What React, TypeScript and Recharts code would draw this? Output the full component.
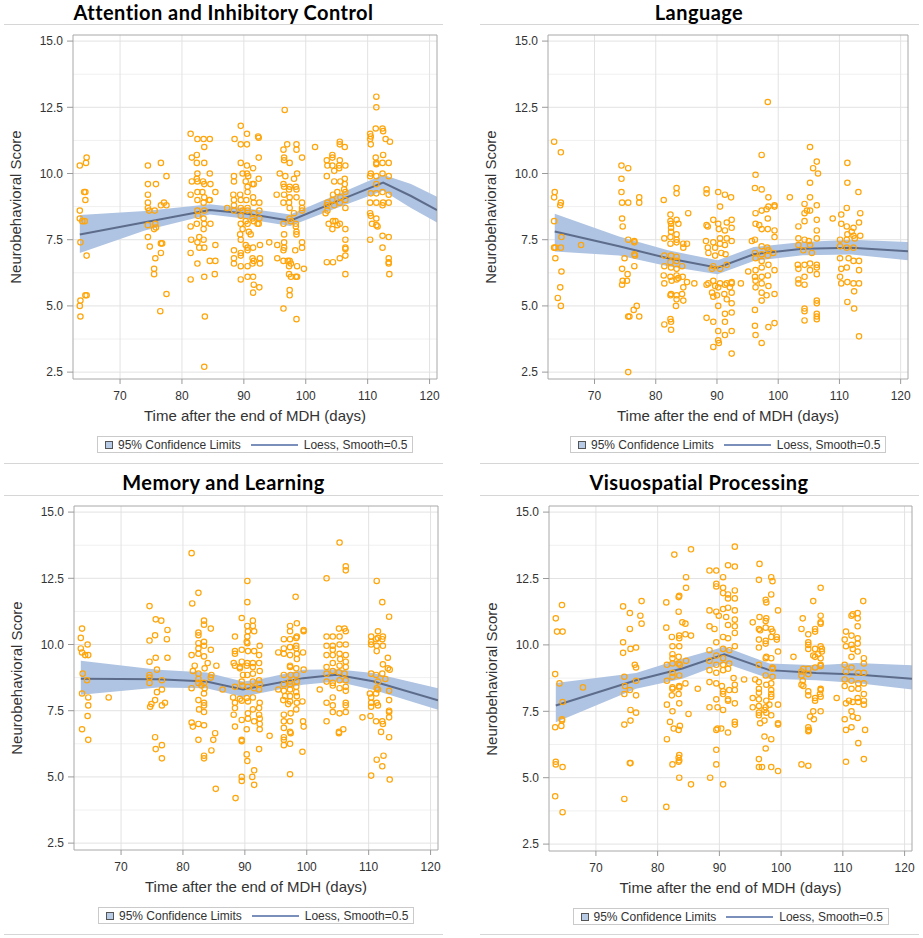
import React from "react";
import {
  Area,
  CartesianGrid,
  ComposedChart,
  Line,
  ReferenceArea,
  Scatter,
  XAxis,
  YAxis,
} from "recharts";

const FONT = "'Liberation Sans', Arial, sans-serif";
const X_TICKS = [70, 80, 90, 100, 110, 120];
const Y_TICKS = [2.5, 5, 7.5, 10, 12.5, 15];
const Y_MINOR = [3.75, 6.25, 8.75, 11.25, 13.75];
const X_DOMAIN: [number, number] = [62.4, 121.2];
const Y_DOMAIN: [number, number] = [2.24, 15.23];

const X_LABEL = "Time after the end of MDH (days)";
const Y_LABEL = "Neurobehavioral Score";
const BAND_LABEL = "95% Confidence Limits";
const FIT_LABEL = "Loess, Smooth=0.5";

type Pt = [number, number];

// ---- Attention and Inhibitory Control ----
const attentionPoints: Pt[] = [
  [63.5,10.3],[64.6,10.6],[64.5,10.4],[64.2,9.3],[64.4,9.3],[64.4,9.0],[63.5,8.6],[63.5,8.3],[63.9,8.2],[64.3,8.2],[63.6,7.4],[64.6,6.9],[64.4,5.4],[64.6,5.4],[63.6,5.2],[63.5,5.0],[63.6,4.6],
  [74.5,10.3],[76.6,10.4],[77.5,9.9],[74.5,9.6],[75.8,9.6],[74.5,9.2],[74.5,8.9],[74.5,8.7],[74.7,8.6],[77.1,8.9],[76.6,8.8],[75.6,8.6],[74.5,8.05],[75.7,8.1],[75.8,7.96],[75.5,7.9],[77.5,8.8],[76.6,7.36],[76.8,7.36],[74.5,7.6],[74.8,7.24],[76.6,7.0],[75.7,6.8],[75.5,6.4],[75.5,6.2],[77.5,5.45],[76.5,4.8],
  [81.4,11.5],[82.5,11.3],[83.5,11.3],[84.5,11.3],[83.6,11.0],[81.6,10.6],[82.4,10.7],[82.4,10.4],[83.6,10.4],[82.5,10.0],[82.4,9.8],[81.6,9.7],[82.5,9.7],[83.4,9.7],[83.6,9.6],[84.6,9.6],[84.5,10.0],[81.4,9.2],[82.5,9.3],[83.3,9.3],[83.6,9.1],[82.5,9.0],[83.5,8.9],[84.5,9.0],[85.4,9.3],[82.5,8.6],[83.6,8.6],[84.4,9.0],[82.6,8.4],[83.5,8.3],[82.4,8.1],[81.4,8.0],[83.5,7.9],[83.6,8.1],[84.6,8.1],[81.5,7.5],[82.8,7.6],[82.5,7.4],[83.5,7.5],[82.8,7.2],[83.6,7.2],[85.4,7.3],[81.4,7.0],[84.5,6.7],[85.4,6.7],[82.5,6.6],[81.4,6.0],[83.6,6.1],[85.3,6.2],[83.7,4.6],[83.6,2.7],
  [89.5,11.8],[88.5,11.3],[90.5,11.5],[92.3,11.4],[92.4,11.35],[89.5,11.1],[90.5,11.1],[92.4,10.6],[89.5,10.4],[90.5,10.3],[91.5,10.2],[88.4,9.9],[89.8,10.0],[90.5,10.0],[90.7,9.9],[92.4,9.8],[88.4,9.7],[90.3,9.7],[91.4,9.6],[91.6,9.6],[88.3,9.2],[89.4,9.2],[90.6,9.5],[90.6,9.3],[91.5,9.1],[88.4,9.0],[89.5,9.0],[90.4,9.0],[88.4,8.8],[89.5,8.7],[90.6,8.7],[91.6,8.9],[92.5,8.9],[87.3,8.7],[88.4,8.6],[89.8,8.6],[90.6,8.6],[91.6,8.5],[92.5,8.6],[89.5,8.4],[90.3,8.2],[91.4,8.3],[92.5,8.3],[91.6,8.2],[92.2,8.1],[89.5,8.1],[89.8,7.9],[90.6,8.1],[92.4,8.1],[89.4,7.7],[89.5,7.5],[90.8,7.8],[91.1,7.7],[88.4,7.1],[89.5,7.0],[90.6,7.1],[88.4,6.8],[89.5,6.9],[91.6,6.7],[92.6,6.8],[88.4,6.6],[89.5,6.5],[90.6,6.5],[91.4,6.6],[92.6,6.6],[90.6,7.2],[91.5,7.2],[92.6,7.3],[89.5,6.0],[90.6,6.1],[91.5,6.1],[91.6,5.8],[91.5,5.5],[92.5,5.7],[90.3,7.3],[91.4,6.8],[94.1,7.4],
  [96.6,12.4],[97.0,11.1],[98.5,11.1],[96.4,10.9],[98.5,10.9],[99.4,10.6],[96.5,10.6],[97.4,10.4],[96.5,10.5],[95.8,10.0],[96.7,9.9],[98.6,10.0],[98.1,9.8],[96.4,9.6],[97.4,9.5],[98.4,9.5],[96.5,9.5],[97.3,9.4],[98.5,9.4],[95.3,9.2],[96.5,9.2],[97.4,9.1],[98.5,9.1],[96.4,8.9],[97.3,8.9],[99.4,8.9],[99.4,8.7],[99.4,8.6],[97.4,8.7],[98.1,8.5],[96.4,8.1],[97.6,8.2],[98.4,8.1],[98.4,8.0],[98.5,7.8],[98.5,7.7],[97.4,8.3],[96.5,7.7],[95.4,7.3],[96.5,7.4],[96.5,7.2],[96.4,7.1],[99.4,7.4],[99.4,7.2],[98.3,7.1],[95.4,6.8],[96.4,6.7],[97.1,6.7],[97.4,6.7],[97.6,6.6],[97.3,6.5],[98.6,6.5],[99.7,6.4],[97.3,6.2],[98.4,6.1],[98.6,6.1],[97.6,6.1],[97.4,5.6],[97.4,5.4],[96.4,4.9],[98.5,4.5],
  [101.5,11.0],[105.5,11.2],[105.5,11.1],[106.3,11.0],[103.4,10.5],[104.3,10.7],[104.3,10.6],[105.5,10.5],[104.3,10.3],[105.4,10.3],[106.4,10.3],[103.5,10.3],[104.6,10.1],[105.4,10.2],[103.4,9.9],[104.6,9.7],[105.6,9.7],[106.3,9.8],[106.3,9.6],[106.2,9.4],[104.4,9.2],[105.1,9.3],[106.4,9.3],[105.6,9.1],[104.3,9.0],[103.5,8.9],[104.6,8.8],[105.5,8.9],[106.4,9.0],[106.4,8.7],[103.4,8.8],[103.5,8.6],[103.2,8.5],[104.4,8.2],[103.7,8.1],[104.8,8.2],[105.5,8.1],[105.1,8.05],[104.3,7.9],[106.4,7.9],[106.4,7.5],[106.4,7.2],[106.4,7.15],[106.4,6.9],[105.5,6.8],[103.4,6.65],[104.4,6.65],[106.4,6.2],
  [111.4,12.9],[111.4,12.5],[110.4,11.5],[111.3,11.7],[112.4,11.7],[112.5,11.6],[110.5,11.4],[110.4,11.3],[112.9,11.3],[113.6,11.2],[110.5,11.1],[112.5,10.7],[111.3,10.6],[111.4,10.4],[112.4,10.4],[113.4,10.4],[111.4,10.35],[110.5,10.0],[111.4,9.9],[112.4,10.0],[113.4,9.9],[110.4,9.9],[111.4,9.6],[110.5,9.25],[111.4,9.25],[112.4,9.3],[113.4,9.2],[111.4,8.9],[110.4,8.9],[112.5,8.9],[110.4,8.5],[111.4,8.3],[112.4,8.8],[113.4,8.9],[110.5,8.4],[111.4,8.05],[111.6,8.0],[110.7,8.1],[112.4,7.65],[113.4,7.6],[110.4,7.5],[112.4,7.2],[113.4,6.8],[113.4,6.65],[113.4,6.6],[113.5,6.2],
];
const attentionFitX = [63.5, 74, 84.5, 90, 97.5, 105, 112.5, 117, 121.2];
const attentionFit = [7.7, 8.16, 8.62, 8.5, 8.22, 8.95, 9.66, 9.15, 8.62];
const attentionUpper = [8.43, 8.58, 8.84, 8.7, 8.45, 9.2, 9.95, 9.6, 9.12];
const attentionLower = [7.0, 7.85, 8.45, 8.3, 8.02, 8.7, 9.35, 8.7, 8.15];

// ---- Language ----
const languagePoints: Pt[] = [
  [63.4,11.2],[64.5,10.8],[63.5,9.3],[63.4,9.1],[64.5,8.9],[64.4,8.8],[63.4,8.2],[63.4,7.2],[63.6,7.2],[64.5,7.2],[64.6,7.6],[63.6,6.8],[64.6,6.3],[64.0,5.3],[64.4,5.7],[64.5,5.0],[67.8,7.3],
  [74.4,10.3],[75.5,10.2],[74.4,9.8],[74.4,9.3],[74.5,8.9],[75.5,8.9],[77.3,9.1],[77.3,8.9],[74.5,8.3],[74.6,8.0],[75.5,7.5],[76.5,7.45],[76.5,7.4],[76.5,6.95],[76.6,6.9],[74.9,6.8],[76.5,6.5],[74.5,6.4],[75.4,6.2],[74.6,5.95],[75.3,5.95],[74.5,5.8],[76.4,4.85],[76.9,5.0],[75.5,4.6],[75.7,4.6],[77.3,4.6],[75.5,2.5],
  [83.4,9.45],[83.4,9.25],[81.3,9.0],[82.4,8.45],[82.4,8.2],[82.5,8.1],[83.4,8.25],[82.5,7.95],[82.5,7.8],[83.7,8.1],[81.4,7.55],[83.4,7.7],[82.4,7.6],[83.4,7.5],[82.4,7.35],[83.4,7.4],[85.3,8.5],[84.5,7.35],[85.1,7.35],[81.4,6.9],[82.5,6.9],[83.4,6.85],[84.5,7.2],[82.4,6.65],[83.4,6.7],[81.4,6.5],[82.5,6.45],[83.4,6.4],[84.3,6.5],[81.3,6.15],[82.4,6.1],[83.4,6.15],[82.6,5.95],[83.7,6.05],[84.4,6.1],[85.1,5.9],[86.3,5.85],[81.4,5.85],[83.4,6.0],[82.5,5.45],[82.4,5.4],[83.4,5.4],[84.5,5.7],[84.3,5.45],[83.4,5.25],[84.5,5.2],[83.3,5.0],[81.4,4.3],[82.4,4.5],[82.5,4.4],[82.5,4.1],
  [88.3,9.4],[88.3,9.25],[90.2,9.3],[91.3,9.2],[92.3,9.1],[90.5,8.75],[89.4,8.25],[90.2,8.1],[88.3,8.05],[88.5,8.0],[91.6,8.15],[92.4,8.25],[90.3,7.9],[91.3,7.85],[92.4,7.95],[88.2,7.45],[89.4,7.4],[90.5,7.55],[91.6,7.55],[92.4,7.45],[88.5,7.2],[89.7,7.2],[90.5,7.35],[91.3,7.3],[88.6,7.0],[89.7,6.9],[90.7,7.0],[91.4,6.95],[89.4,6.5],[90.5,6.4],[91.6,6.55],[89.2,6.4],[88.6,5.85],[89.4,5.95],[90.5,5.85],[91.6,5.85],[92.4,5.9],[88.3,5.8],[89.7,5.75],[90.2,5.7],[91.3,5.8],[92.1,5.7],[92.4,5.85],[89.2,5.5],[90.0,5.4],[91.2,5.45],[92.4,5.5],[89.4,5.35],[90.2,5.0],[91.6,5.25],[92.4,5.1],[91.3,4.7],[92.4,4.75],[88.3,4.55],[89.4,4.4],[90.2,4.05],[91.3,4.4],[92.4,4.05],[91.3,3.9],[90.2,3.7],[90.3,3.6],[89.4,3.45],[92.4,3.2],[93.9,5.85],
  [98.3,12.7],[97.3,10.7],[96.3,9.95],[96.2,9.45],[97.3,9.4],[98.4,9.1],[99.4,8.8],[96.3,8.5],[97.3,8.6],[98.1,8.65],[98.4,8.75],[99.4,8.75],[96.3,8.1],[96.9,8.05],[97.3,7.9],[98.3,7.9],[99.4,7.85],[98.3,8.3],[99.4,7.6],[95.7,7.45],[96.2,7.5],[97.3,7.25],[98.2,7.2],[98.4,7.1],[96.2,7.0],[97.3,6.95],[98.3,6.9],[99.2,7.0],[96.3,6.8],[97.3,6.7],[98.4,6.55],[99.4,6.35],[96.3,6.35],[97.3,6.45],[95.1,6.3],[96.2,6.1],[97.3,6.1],[98.3,6.15],[96.3,5.95],[97.3,5.85],[98.4,5.75],[96.3,5.7],[97.3,5.5],[98.1,5.4],[99.4,5.45],[97.3,5.2],[96.2,4.85],[96.2,4.25],[96.3,3.9],[97.3,3.6],[98.4,4.2],[99.4,4.35],[101.9,9.1],
  [105.2,11.0],[106.3,10.45],[105.7,10.2],[106.5,10.0],[105.2,9.65],[105.2,9.1],[104.3,8.85],[104.7,8.6],[105.2,8.6],[106.3,8.8],[104.3,8.5],[103.3,8.0],[104.3,8.2],[106.3,8.25],[103.3,7.55],[104.3,7.5],[105.0,7.45],[106.3,7.85],[106.3,7.55],[103.3,7.3],[105.2,7.3],[104.1,7.1],[105.5,7.0],[103.2,6.55],[104.3,6.55],[106.3,6.55],[103.3,6.4],[105.2,6.35],[106.3,6.45],[103.3,6.0],[104.3,6.1],[106.3,6.2],[105.2,6.6],[103.3,5.85],[104.3,5.8],[104.3,4.9],[104.3,4.8],[104.3,4.45],[106.3,5.2],[106.3,5.1],[106.3,4.7],[106.3,4.6],[106.3,4.5],[108.9,8.3],
  [111.3,10.4],[111.3,9.65],[113.1,9.3],[111.2,8.7],[110.3,8.45],[110.3,8.1],[111.2,8.0],[112.3,7.95],[112.0,7.8],[111.3,7.7],[112.3,7.65],[113.4,7.65],[112.5,7.55],[110.1,7.5],[111.2,7.5],[113.4,8.5],[113.2,8.15],[110.1,7.25],[111.2,7.2],[112.3,7.2],[110.1,6.8],[111.5,6.8],[112.3,6.7],[113.2,6.7],[110.3,6.4],[111.2,6.45],[113.2,6.35],[110.1,6.1],[110.3,5.85],[111.3,5.9],[112.3,5.85],[113.2,5.85],[112.4,5.55],[111.3,5.15],[112.4,4.9],[113.2,3.85],
];
const languageFitX = [63.5, 74, 82, 90.1, 96, 104, 112, 121.2];
const languageFit = [7.81, 7.25, 6.8, 6.44, 6.95, 7.16, 7.2, 7.06];
const languageUpper = [8.48, 7.62, 7.1, 6.72, 7.22, 7.41, 7.5, 7.41];
const languageLower = [7.05, 6.9, 6.5, 6.2, 6.7, 6.91, 6.94, 6.72];

// ---- Memory and Learning ----
const memoryPoints: Pt[] = [
  [63.7,10.6],[63.5,10.25],[63.5,9.85],[63.7,9.7],[64.2,9.6],[64.7,9.6],[64.6,10.0],[63.8,8.9],[64.5,8.65],[63.7,8.15],[64.7,8.0],[64.7,7.7],[64.6,7.3],[63.7,6.8],[64.7,6.4],[68.0,8.0],
  [74.6,11.45],[75.6,10.95],[76.5,10.9],[77.5,10.55],[77.4,10.2],[74.6,10.15],[75.5,10.35],[74.6,9.35],[75.6,9.5],[75.8,9.05],[77.5,9.5],[74.6,8.85],[74.6,8.75],[74.6,8.55],[76.6,8.65],[75.8,8.2],[76.6,8.3],[75.5,7.9],[74.7,7.65],[74.9,7.75],[76.6,7.7],[77.1,7.8],[75.5,6.5],[75.6,6.05],[76.6,6.2],[76.6,5.7],
  [81.4,13.45],[81.5,11.55],[82.5,11.95],[82.5,10.45],[82.5,10.35],[83.4,10.9],[83.4,10.75],[84.5,10.6],[82.5,10.05],[81.4,9.6],[82.5,9.85],[82.5,9.65],[83.4,10.1],[83.4,9.95],[83.4,9.55],[84.5,9.8],[84.0,9.3],[85.4,9.2],[81.9,9.2],[81.6,9.0],[82.5,8.9],[83.5,9.1],[82.5,8.7],[83.4,8.55],[84.6,8.85],[84.5,8.75],[81.4,8.35],[82.5,8.55],[83.0,8.45],[83.5,8.35],[83.4,8.15],[82.5,7.9],[83.4,7.8],[82.6,7.55],[83.4,7.7],[83.4,7.45],[81.4,7.05],[82.5,7.0],[83.4,6.95],[81.6,6.9],[82.5,6.4],[84.6,6.0],[83.4,5.7],[83.4,5.8],[84.9,6.4],[85.2,6.65],[85.3,4.55],[86.4,8.3],
  [90.4,12.4],[90.4,11.6],[89.5,11.0],[91.3,10.9],[90.4,10.7],[91.3,10.7],[90.5,10.5],[91.5,10.5],[88.4,10.3],[90.4,10.3],[90.3,10.1],[90.4,10.05],[92.4,9.95],[88.4,9.75],[89.5,9.8],[88.4,9.65],[90.5,9.75],[91.5,9.75],[92.3,9.6],[88.2,9.3],[89.5,9.35],[90.4,9.3],[91.3,9.3],[92.3,9.3],[88.4,9.2],[89.2,9.15],[90.3,9.2],[91.3,9.15],[89.2,9.1],[89.7,8.85],[90.4,8.85],[91.3,8.9],[92.4,9.0],[92.3,8.65],[89.5,8.6],[91.3,8.6],[92.4,8.5],[88.4,8.4],[89.6,8.45],[90.5,8.4],[91.5,8.35],[92.3,8.3],[88.1,8.0],[89.2,7.95],[90.3,7.98],[91.3,8.0],[88.4,7.8],[89.5,7.88],[90.5,7.85],[92.4,7.8],[88.4,7.6],[90.5,7.4],[92.3,7.6],[88.2,7.35],[92.3,7.35],[91.3,7.55],[90.5,7.2],[91.5,7.1],[92.4,7.2],[89.5,7.15],[88.4,6.9],[92.4,7.0],[90.3,6.8],[92.4,6.8],[89.5,6.4],[89.5,6.35],[92.3,6.05],[90.3,5.85],[90.4,5.6],[91.5,5.25],[89.5,5.0],[89.5,4.85],[91.2,5.0],[91.5,4.7],[88.5,4.2],[94.0,6.55],
  [98.2,11.8],[97.3,10.7],[98.4,10.8],[96.3,10.2],[97.3,10.5],[97.3,10.2],[98.4,10.3],[98.3,10.25],[99.5,10.55],[99.5,10.5],[95.4,9.7],[96.3,9.85],[97.3,9.9],[98.3,9.95],[98.3,9.85],[96.3,9.65],[97.3,9.6],[98.4,9.65],[99.4,9.7],[97.3,9.2],[97.3,9.15],[98.4,9.45],[98.3,9.1],[99.5,9.05],[96.3,8.85],[97.4,8.85],[98.3,8.85],[97.3,8.6],[98.4,8.6],[96.3,8.5],[97.3,8.5],[98.3,8.4],[95.4,8.3],[96.3,8.25],[97.3,8.3],[98.3,8.2],[96.5,8.05],[97.3,8.05],[98.4,8.05],[96.2,7.9],[97.3,7.85],[98.4,7.8],[99.3,7.85],[97.0,7.75],[98.3,7.55],[96.3,7.35],[97.4,7.4],[96.3,7.1],[97.3,7.1],[99.4,7.1],[99.5,6.9],[96.3,6.85],[97.3,6.7],[97.4,6.65],[96.3,6.5],[96.3,6.4],[96.3,6.2],[97.3,6.25],[99.3,5.95],[97.3,5.1],
  [105.3,13.85],[106.3,12.95],[106.3,12.8],[103.2,12.5],[105.2,10.6],[106.1,10.6],[106.3,10.5],[103.2,10.3],[104.2,10.3],[105.3,10.3],[103.2,9.95],[104.2,9.95],[105.3,10.0],[106.3,10.0],[104.2,9.8],[103.2,9.6],[104.2,9.6],[105.3,9.65],[106.3,9.6],[105.4,9.45],[106.3,9.35],[104.2,9.3],[103.2,9.15],[105.3,9.2],[106.3,9.15],[103.2,8.9],[104.2,9.0],[105.2,8.95],[106.1,8.9],[103.2,8.6],[104.2,8.55],[105.3,8.65],[106.3,8.65],[104.2,8.45],[105.3,8.35],[106.3,8.4],[106.3,8.25],[102.1,8.3],[104.2,8.0],[103.2,7.8],[104.2,7.7],[106.3,7.8],[106.3,7.7],[104.2,7.45],[105.3,7.4],[106.3,7.45],[103.2,7.1],[105.2,6.7],[105.2,6.65],[105.9,6.8],
  [111.3,12.4],[112.2,11.6],[113.3,11.05],[111.5,10.5],[110.4,10.3],[111.5,10.25],[112.3,10.3],[112.2,10.2],[110.4,10.1],[111.2,10.2],[110.4,10.0],[111.3,9.95],[112.3,9.95],[111.3,9.75],[113.1,9.5],[112.3,9.25],[113.1,9.1],[113.4,9.05],[112.2,8.9],[111.2,8.85],[110.4,8.9],[112.7,8.7],[111.5,8.6],[111.3,8.35],[111.5,8.3],[113.3,8.25],[110.2,8.15],[110.4,8.0],[111.2,8.15],[110.4,7.8],[111.3,7.8],[110.4,7.65],[111.5,7.7],[113.3,7.9],[113.3,7.5],[113.3,7.45],[110.3,7.3],[109.0,7.25],[113.3,7.25],[111.2,7.1],[112.2,7.1],[112.3,7.0],[112.0,6.7],[113.3,6.5],[111.3,5.65],[112.4,5.8],[112.2,5.4],[110.4,5.05],[113.4,4.9],
];
const memoryFitX = [63.5, 76, 83.8, 89.7, 92.4, 99.4, 104.8, 110.7, 121.2];
const memoryFit = [8.71, 8.69, 8.6, 8.3, 8.42, 8.73, 8.86, 8.61, 7.89];
const memoryUpper = [9.39, 9.05, 8.94, 8.6, 8.69, 9.05, 9.07, 8.92, 8.35];
const memoryLower = [8.1, 8.38, 8.35, 8.02, 8.16, 8.48, 8.6, 8.29, 7.54];

// ---- Visuospatial Processing ----
const visuoPoints: Pt[] = [
  [64.5,11.5],[63.5,11.0],[63.7,10.5],[64.6,10.5],[63.4,8.9],[64.1,8.55],[64.6,7.85],[64.5,7.2],[64.5,7.15],[63.4,6.9],[64.4,6.95],[63.5,5.6],[63.5,5.5],[64.6,5.4],[63.4,4.3],[64.6,3.7],[67.9,8.4],
  [74.4,11.45],[75.5,11.2],[77.2,11.1],[77.4,11.65],[77.4,10.8],[75.5,10.6],[74.4,10.1],[74.4,9.7],[75.6,9.85],[76.5,9.9],[76.3,9.25],[76.5,9.15],[74.6,8.8],[76.5,8.65],[74.7,8.45],[74.6,8.15],[75.5,8.3],[76.5,8.1],[75.6,7.55],[76.5,7.45],[75.6,7.15],[74.6,7.0],[75.5,5.55],[75.6,5.55],[74.6,4.2],
  [82.7,13.4],[85.4,13.6],[84.6,12.55],[83.4,11.8],[83.5,11.85],[84.6,12.15],[81.4,11.6],[83.4,11.25],[84.0,10.85],[84.5,10.8],[81.4,10.65],[82.3,10.3],[83.5,10.35],[83.5,10.25],[84.5,10.4],[85.4,10.35],[82.4,9.95],[83.5,9.95],[82.4,9.65],[83.4,9.55],[82.4,9.5],[84.6,9.4],[83.4,9.3],[81.5,9.25],[82.4,9.3],[83.6,9.25],[82.4,8.95],[83.5,8.85],[82.4,8.8],[81.5,8.65],[84.5,8.55],[82.4,8.4],[83.5,8.4],[82.4,8.35],[83.5,8.45],[82.3,8.1],[83.4,8.15],[83.5,7.8],[82.4,7.5],[81.5,7.75],[85.0,7.4],[86.5,8.35],[82.0,7.1],[82.6,6.85],[83.6,6.95],[83.4,6.8],[81.5,6.45],[82.4,5.5],[83.5,5.85],[83.4,5.75],[83.5,5.65],[83.4,5.6],[83.5,5.0],[85.4,4.75],[81.4,3.9],
  [92.5,13.7],[88.4,12.8],[89.5,12.8],[91.4,13.0],[92.5,12.95],[90.6,12.55],[89.5,12.3],[89.5,12.2],[90.6,12.15],[91.4,11.9],[92.5,12.05],[92.5,11.75],[90.6,11.95],[91.4,11.75],[88.4,11.3],[89.5,11.25],[90.6,11.35],[91.4,11.4],[92.5,11.3],[89.9,11.1],[91.1,11.05],[91.4,10.75],[92.5,10.95],[88.4,10.7],[89.2,10.6],[92.5,10.7],[92.5,10.45],[89.5,10.1],[90.6,10.3],[91.4,10.25],[88.4,9.8],[92.5,9.95],[90.6,9.85],[91.6,9.8],[89.5,9.6],[90.6,9.5],[88.4,9.4],[89.5,9.25],[90.6,9.25],[91.6,9.3],[88.4,9.05],[89.5,8.95],[90.6,9.05],[91.4,9.1],[92.3,8.75],[88.4,8.6],[89.5,8.55],[90.4,8.45],[92.5,8.5],[91.6,8.3],[90.6,8.25],[92.5,8.3],[90.6,8.15],[91.4,7.9],[88.4,7.65],[89.5,7.95],[89.7,7.65],[90.6,7.55],[92.5,7.8],[91.4,7.95],[89.7,6.85],[89.5,6.8],[90.3,6.85],[91.4,6.7],[92.5,7.1],[92.5,7.0],[88.5,5.0],[89.5,5.5],[90.6,4.75],[89.5,6.05],[94.0,8.7],
  [96.5,13.05],[96.4,12.45],[98.4,12.55],[98.6,12.4],[98.4,11.9],[97.5,11.7],[97.6,11.6],[99.5,11.3],[96.5,11.05],[97.6,11.0],[97.5,10.9],[98.4,10.6],[98.6,10.5],[95.4,10.85],[96.4,10.6],[96.6,10.55],[97.5,10.65],[98.4,10.3],[99.3,10.3],[99.3,10.2],[96.4,10.2],[97.5,10.15],[97.5,10.05],[96.4,9.9],[99.5,9.75],[97.5,9.5],[97.6,9.55],[98.4,9.5],[96.4,9.25],[98.6,9.15],[98.6,9.1],[97.5,8.85],[98.6,8.8],[96.4,8.6],[95.8,8.7],[98.4,8.55],[97.6,8.5],[96.4,8.35],[96.4,8.2],[98.4,8.3],[98.4,8.15],[95.4,8.0],[96.4,7.95],[97.6,7.9],[98.4,8.05],[96.4,7.7],[97.5,7.65],[98.1,7.75],[99.5,7.75],[95.4,7.65],[96.4,7.45],[97.3,7.55],[96.4,7.35],[97.6,7.45],[98.4,7.35],[99.5,7.05],[99.5,7.0],[97.3,7.15],[96.6,7.05],[97.3,6.55],[98.4,6.45],[97.5,6.1],[96.4,5.7],[96.9,5.4],[96.4,5.4],[98.4,5.4],[99.5,5.25],
  [105.2,11.65],[106.4,12.15],[103.5,11.0],[103.3,10.6],[104.4,10.4],[105.5,10.6],[105.5,10.5],[106.4,11.1],[106.4,10.85],[106.4,10.8],[104.4,10.1],[104.4,10.0],[104.4,9.85],[105.5,9.85],[106.4,9.95],[106.6,9.85],[105.2,9.6],[106.0,9.65],[106.6,9.75],[105.5,9.55],[106.4,9.5],[106.4,9.25],[102.0,9.55],[103.6,9.1],[103.3,9.0],[104.4,9.1],[105.5,9.15],[106.4,9.2],[103.3,8.85],[104.4,8.9],[103.5,8.65],[103.3,8.5],[103.6,8.45],[104.4,8.25],[104.4,8.1],[105.5,8.0],[105.5,7.9],[106.4,8.05],[106.4,8.35],[106.4,8.3],[106.3,8.15],[105.2,7.5],[106.4,7.5],[104.7,7.3],[104.4,6.9],[104.5,6.8],[104.4,6.75],[105.3,7.2],[103.3,5.5],[104.4,5.45],[109.0,8.0],
  [113.3,11.65],[112.4,11.2],[111.4,11.1],[111.6,11.15],[112.4,11.0],[112.4,10.7],[110.5,10.5],[111.4,10.35],[112.4,10.25],[110.3,10.2],[111.4,10.0],[112.4,10.05],[110.5,9.95],[111.6,9.85],[112.4,9.75],[111.4,9.55],[113.4,9.5],[110.3,9.25],[111.4,9.15],[113.4,9.3],[112.5,8.95],[110.5,9.0],[113.4,8.95],[110.3,8.7],[111.4,8.65],[112.5,8.55],[113.4,8.55],[110.3,8.45],[111.4,8.35],[112.5,8.35],[113.4,8.15],[112.4,8.0],[111.0,7.9],[111.6,7.85],[113.4,7.9],[110.5,7.8],[112.5,7.85],[113.4,7.75],[111.4,7.5],[110.3,7.2],[111.6,7.3],[112.4,7.25],[110.5,6.8],[111.4,6.9],[113.6,6.8],[112.5,6.3],[113.4,5.7],[110.5,5.6],
];
const visuoFitX = [63.5, 76.5, 84, 90.8, 98.1, 105.7, 112.2, 121.2];
const visuoFit = [7.72, 8.67, 9.11, 9.65, 9.05, 8.94, 8.89, 8.73];
const visuoUpper = [8.57, 8.94, 9.49, 9.93, 9.3, 9.23, 9.32, 9.23];
const visuoLower = [7.09, 8.35, 8.73, 9.32, 8.73, 8.67, 8.57, 8.32];

type Frame = { left: number; top: number; width: number; height: number };

type PanelProps = {
  title: string;
  points: Pt[];
  fitX: number[];
  fit: number[];
  lower: number[];
  upper: number[];
  frame: Frame;
  colCenter: number;
  titleTop: number;
  ruleY: number;
  bottomRuleY: number;
};

const YW = 60;
const TOP = 8;
const XH = 30;
const RIGHT = 6;

const ring = (p: any) => (
  <circle cx={p.cx} cy={p.cy} r={2.7} fill="none" stroke="#FFA50A" strokeWidth={1.2} />
);

function Panel(props: PanelProps) {
  const { title, points, fitX, fit, lower, upper, frame, colCenter, titleTop, ruleY, bottomRuleY } = props;
  const table = fitX.map((x, i) => ({ x, fit: fit[i], band: [lower[i], upper[i]] }));
  const scatterData = points.map(([x, y]) => ({ x, y }));
  const cx = frame.left + frame.width / 2;
  const cy = frame.top + frame.height / 2;
  const bottom = frame.top + frame.height;
  const tickStyle = { fontSize: 12, fill: "#333", fontFamily: FONT };

  return (
    <>
      <div
        style={{
          position: "absolute",
          left: colCenter - 220,
          width: 440,
          top: titleTop,
          height: 24,
          lineHeight: "24px",
          textAlign: "center",
          fontFamily: "Lato, 'Open Sans', sans-serif",
          fontWeight: 700,
          fontSize: 20,
          letterSpacing: "0.45px",
          color: "#000",
        }}
      >
        {title}
      </div>
      <div style={{ position: "absolute", left: colCenter - 219.5, width: 439, top: ruleY, height: 1, background: "#D6D6D6" }} />
      <div style={{ position: "absolute", left: colCenter - 219.5, width: 439, top: bottomRuleY, height: 1, background: "#D6D6D6" }} />

      <div style={{ position: "absolute", left: frame.left - YW, top: frame.top - TOP }}>
        <ComposedChart
          width={YW + frame.width + RIGHT}
          height={TOP + frame.height + XH}
          data={table}
          margin={{ top: TOP, right: RIGHT, bottom: 0, left: 0 }}
        >
          <CartesianGrid horizontalValues={Y_MINOR} vertical={false} stroke="#F0F0F0" />
          <CartesianGrid horizontalValues={Y_TICKS} verticalValues={X_TICKS} stroke="#E2E2E2" />
          <XAxis
            type="number"
            dataKey="x"
            domain={X_DOMAIN}
            allowDataOverflow
            ticks={X_TICKS}
            height={XH}
            tickSize={5}
            tickMargin={7}
            axisLine={false}
            tickLine={{ stroke: "#9A9A9A" }}
            tick={tickStyle}
          />
          <YAxis
            type="number"
            domain={Y_DOMAIN}
            allowDataOverflow
            ticks={Y_TICKS}
            width={YW}
            tickSize={6}
            tickMargin={4}
            axisLine={false}
            tickLine={{ stroke: "#9A9A9A" }}
            tick={tickStyle}
            tickFormatter={(v: number) => v.toFixed(1)}
          />
          <Area dataKey="band" type="linear" stroke="none" fill="#AFC4E2" fillOpacity={1} isAnimationActive={false} />
          <Scatter data={scatterData} dataKey="y" shape={ring} isAnimationActive={false} />
          <Line dataKey="fit" type="linear" stroke="#5D6C8B" strokeWidth={2} dot={false} isAnimationActive={false} />
          <ReferenceArea
            x1={X_DOMAIN[0]}
            x2={X_DOMAIN[1]}
            y1={Y_DOMAIN[0]}
            y2={Y_DOMAIN[1]}
            fill="none"
            fillOpacity={0}
            stroke="#A8A8A8"
            strokeWidth={1}
          />
        </ComposedChart>
      </div>

      <div
        style={{
          position: "absolute",
          left: frame.left - 57.5 - 100,
          top: cy - 10,
          width: 200,
          height: 20,
          lineHeight: "20px",
          textAlign: "center",
          transform: "rotate(-90deg)",
          fontSize: 15,
          color: "#333",
        }}
      >
        {Y_LABEL}
      </div>
      <div
        style={{
          position: "absolute",
          left: cx - 150,
          width: 300,
          top: bottom + 27,
          height: 20,
          lineHeight: "20px",
          textAlign: "center",
          fontSize: 15,
          color: "#333",
        }}
      >
        {X_LABEL}
      </div>

      <div
        style={{
          position: "absolute",
          left: cx - 158,
          top: bottom + 57,
          width: 316,
          height: 17,
          boxSizing: "border-box",
          border: "1px solid #CACACA",
          display: "flex",
          alignItems: "center",
          fontSize: 12,
          color: "#333",
          whiteSpace: "nowrap",
        }}
      >
        <span style={{ display: "inline-block", width: 8, height: 8, boxSizing: "border-box", background: "#B7CBE6", border: "1px solid #555", marginLeft: 7, marginRight: 5 }} />
        <span>{BAND_LABEL}</span>
        <span style={{ display: "inline-block", width: 47, height: 2, background: "#7A90BA", marginLeft: 10, marginRight: 6 }} />
        <span>{FIT_LABEL}</span>
      </div>
    </>
  );
}

export default function App() {
  return (
    <div
      style={{
        position: "absolute",
        left: 0,
        top: 0,
        width: 923,
        height: 938,
        background: "#fff",
        fontFamily: FONT,
        overflow: "hidden",
      }}
    >
      <Panel
        title="Attention and Inhibitory Control"
        points={attentionPoints}
        fitX={attentionFitX}
        fit={attentionFit}
        lower={attentionLower}
        upper={attentionUpper}
        frame={{ left: 73, top: 35, width: 364, height: 344 }}
        colCenter={223.5}
        titleTop={0}
        ruleY={24}
        bottomRuleY={463}
      />
      <Panel
        title="Language"
        points={languagePoints}
        fitX={languageFitX}
        fit={languageFit}
        lower={languageLower}
        upper={languageUpper}
        frame={{ left: 548, top: 35, width: 360, height: 344 }}
        colCenter={699}
        titleTop={0}
        ruleY={24}
        bottomRuleY={463}
      />
      <Panel
        title="Memory and Learning"
        points={memoryPoints}
        fitX={memoryFitX}
        fit={memoryFit}
        lower={memoryLower}
        upper={memoryUpper}
        frame={{ left: 74, top: 506, width: 364, height: 344 }}
        colCenter={223.5}
        titleTop={469.5}
        ruleY={495}
        bottomRuleY={934}
      />
      <Panel
        title="Visuospatial Processing"
        points={visuoPoints}
        fitX={visuoFitX}
        fit={visuoFit}
        lower={visuoLower}
        upper={visuoUpper}
        frame={{ left: 549, top: 506, width: 363, height: 345 }}
        colCenter={699}
        titleTop={469.5}
        ruleY={495}
        bottomRuleY={934}
      />
    </div>
  );
}
